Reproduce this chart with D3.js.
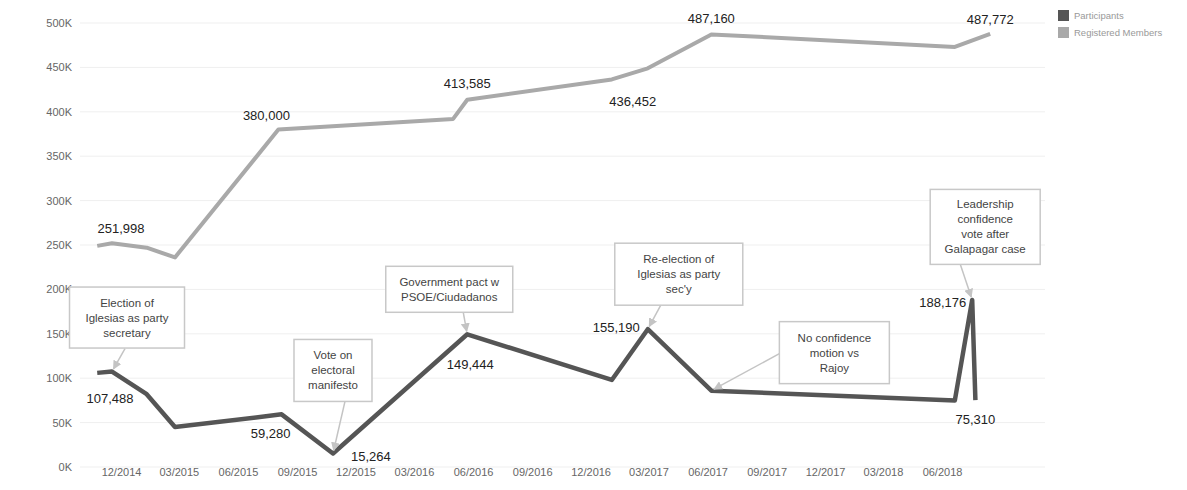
<!DOCTYPE html>
<html lang="en">
<head>
<meta charset="UTF-8">
<title>Podemos participants and registered members</title>
<script src="https://d3js.org/d3.v7.min.js"></script>
<style>
    body { margin: 0; background: #fff; font-family: "Liberation Sans", Arial, sans-serif; }
    .grid line { stroke: #efefef; stroke-width: 1; }
    .axis text { fill: #666; font-size: 11px; }
    .val { fill: #222; font-size: 13px; }
    .note text { fill: #444; font-size: 11.5px; text-anchor: middle; }
    .note rect { fill: #fff; stroke: #c8c8c8; stroke-width: 1.5; }
    .legend text { fill: #999; font-size: 9.5px; }
</style>
</head>
<body>
<svg width="1187" height="490"></svg>
<script>
    // registered members (light line)
    const regDates = ["2014-10-25", "2014-11-17", "2015-01-10", "2015-02-23", "2015-08-03",
        "2016-05-01", "2016-05-23", "2017-01-03", "2017-02-28", "2017-06-07", "2018-06-21", "2018-08-15"];
    const regValues = [249000, 251998, 247000, 236000, 380000, 392000, 413585, 436452, 449000, 487160, 473000, 487772];

    // participants (dark line)
    const partDates = ["2014-10-25", "2014-11-17", "2015-01-10", "2015-02-23", "2015-08-08",
        "2015-10-27", "2016-05-23", "2017-01-03", "2017-02-28", "2017-06-07", "2018-06-21", "2018-07-18", "2018-07-23"];
    const partValues = [106000, 107488, 82000, 45000, 59280, 15264, 149444, 98000, 155190, 86000, 75000, 188176, 75310];

    const tickLabels = ["12/2014", "03/2015", "06/2015", "09/2015", "12/2015", "03/2016", "06/2016", "09/2016",
        "12/2016", "03/2017", "06/2017", "09/2017", "12/2017", "03/2018", "06/2018"];
    const yTicks = [0, 50000, 100000, 150000, 200000, 250000, 300000, 350000, 400000, 450000, 500000];

    // which points get a value label, and where (offsets from the point)
    const regLabels = [
        { i: 1, dx: 9, dy: -10, anchor: "middle" },
        { i: 4, dx: -12, dy: -10, anchor: "middle" },
        { i: 6, dx: 0, dy: -12, anchor: "middle" },
        { i: 7, dx: 21, dy: 27, anchor: "middle" },
        { i: 9, dx: 0, dy: -11, anchor: "middle" },
        { i: 11, dx: 0, dy: -10, anchor: "middle" }
    ];
    const partLabels = [
        { i: 1, dx: -2, dy: 31, anchor: "middle" },
        { i: 4, dx: -11, dy: 24, anchor: "middle" },
        { i: 5, dx: 18, dy: 8, anchor: "start" },
        { i: 6, dx: 3, dy: 35, anchor: "middle" },
        { i: 8, dx: -8, dy: 3, anchor: "end" },
        { i: 11, dx: -6, dy: 7, anchor: "end" },
        { i: 12, dx: 0, dy: 24, anchor: "middle" }
    ];

    // annotations on the participants line
    const notes = [
        { i: 1, lines: ["Election of", "Iglesias as party", "secretary"], dx: 15, dy: -54, w: 115, h: 61, ax: -2, ay: 31 },
        { i: 5, lines: ["Vote on", "electoral", "manifesto"], dx: 0, dy: -83, w: 78, h: 62, ax: 12, ay: 31 },
        { i: 6, lines: ["Government pact w", "PSOE/Ciudadanos"], dx: -18, dy: -45, w: 127, h: 46, ax: 14, ay: 23 },
        { i: 8, lines: ["Re-election of", "Iglesias as party", "sec'y"], dx: 31, dy: -55, w: 128, h: 62, ax: -18, ay: 31 },
        { i: 9, lines: ["No confidence", "motion vs", "Rajoy"], dx: 123, dy: -38, w: 110, h: 62, ax: -55, ay: 1 },
        { i: 11, lines: ["Leadership", "confidence", "vote after", "Galapagar case"], dx: 13, dy: -73, w: 110, h: 75, ax: -25, ay: 37 }
    ];

    const parse = d3.timeParse("%Y-%m-%d");
    const reg = regDates.map((d, k) => ({ date: parse(d), value: regValues[k] }));
    const part = partDates.map((d, k) => ({ date: parse(d), value: partValues[k] }));
    const tickDates = tickLabels.map(d3.timeParse("%m/%Y"));

    const plotLeft = 80, plotRight = 1045;
    const svg = d3.select("svg");

    const x = d3.scaleTime()
        .domain([tickDates[0], tickDates[tickDates.length - 1]])
        .range([121, 942]);
    const y = d3.scaleLinear()
        .domain([0, 500000])
        .range([467, 23]);

    // gridlines
    svg.append("g").attr("class", "grid")
        .selectAll("line").data(yTicks).join("line")
        .attr("x1", plotLeft).attr("x2", plotRight)
        .attr("y1", d => y(d)).attr("y2", d => y(d));

    // axes
    const yAxis = svg.append("g").attr("class", "axis")
        .attr("transform", "translate(72,0)")
        .call(d3.axisLeft(y).tickValues(yTicks).tickSize(0).tickPadding(0)
            .tickFormat(d => (d / 1000) + "K"));
    yAxis.select(".domain").remove();

    const xAxis = svg.append("g").attr("class", "axis")
        .attr("transform", "translate(0,468)")
        .call(d3.axisBottom(x).tickValues(tickDates).tickSize(0).tickPadding(0)
            .tickFormat(d3.timeFormat("%m/%Y")));
    xAxis.select(".domain").remove();

    const line = d3.line().x(d => x(d.date)).y(d => y(d.value));

    // arrowhead for the annotation pointers
    svg.append("defs").append("marker")
        .attr("id", "arr")
        .attr("viewBox", "0 0 10 10")
        .attr("refX", 9).attr("refY", 5)
        .attr("markerWidth", 6).attr("markerHeight", 6)
        .attr("orient", "auto")
        .append("path")
        .attr("d", "M0,0L10,5L0,10z")
        .attr("fill", "#c4c4c4");

    svg.append("path").datum(reg)
        .attr("fill", "none")
        .attr("stroke", "#a9a9a9")
        .attr("stroke-width", 4)
        .attr("stroke-linejoin", "round")
        .attr("d", line);

    svg.append("path").datum(part)
        .attr("fill", "none")
        .attr("stroke", "#555")
        .attr("stroke-width", 4.5)
        .attr("stroke-linejoin", "round")
        .attr("d", line);

    // value labels
    function addLabels(data, labels) {
        svg.append("g").selectAll("text").data(labels).join("text")
            .attr("class", "val")
            .attr("x", l => x(data[l.i].date) + l.dx)
            .attr("y", l => y(data[l.i].value) + l.dy)
            .attr("text-anchor", l => l.anchor)
            .text(l => d3.format(",")(data[l.i].value));
    }
    addLabels(reg, regLabels);
    addLabels(part, partLabels);

    // annotation boxes with arrows
    const noteG = svg.append("g").selectAll("g").data(notes).join("g").attr("class", "note");
    noteG.each(function (n) {
        const g = d3.select(this);
        const px = x(part[n.i].date), py = y(part[n.i].value);
        const cx = px + n.dx, cy = py + n.dy;
        const sx = cx + n.ax, sy = cy + n.ay;
        const len = Math.hypot(px - sx, py - sy);
        const ex = px - (px - sx) / len * 3, ey = py - (py - sy) / len * 3;
        g.append("line")
            .attr("x1", sx).attr("y1", sy).attr("x2", ex).attr("y2", ey)
            .attr("stroke", "#c4c4c4").attr("stroke-width", 1.5)
            .attr("marker-end", "url(#arr)");
        g.append("rect")
            .attr("x", cx - n.w / 2).attr("y", cy - n.h / 2)
            .attr("width", n.w).attr("height", n.h);
        const lh = 15;
        const top = cy - (n.lines.length - 1) * lh / 2 + 4;
        g.selectAll("text").data(n.lines).join("text")
            .attr("x", cx).attr("y", (d, k) => top + k * lh)
            .text(d => d);
    });

    // legend
    const legend = svg.append("g").attr("class", "legend").attr("transform", "translate(1058,10)");
    const legendItems = [["Participants", "#555"], ["Registered Members", "#a9a9a9"]];
    legendItems.forEach(([name, color], k) => {
        legend.append("rect").attr("x", 0).attr("y", k * 17).attr("width", 11).attr("height", 11).attr("fill", color);
        legend.append("text").attr("x", 16).attr("y", k * 17 + 9).text(name);
    });
</script>
</body>
</html>
